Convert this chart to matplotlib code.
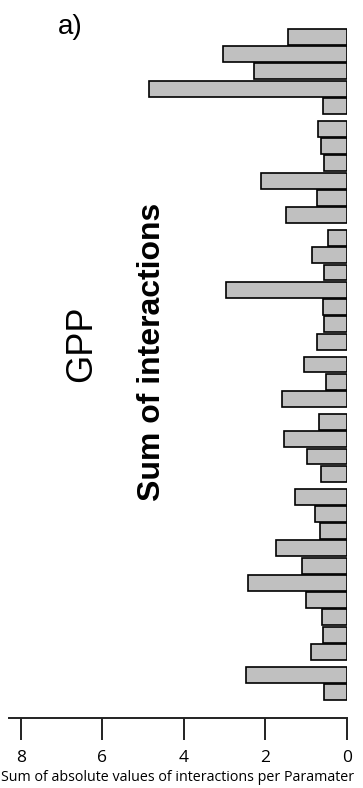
import numpy as np
import matplotlib
matplotlib.use("Agg")
import matplotlib.pyplot as plt

# bar values, top to bottom, split into the visual groups
group_sizes = [5, 6, 7, 3, 4, 10, 2]
values = [
    1.45, 3.05, 2.27, 4.87, 0.60,
    0.71, 0.63, 0.56, 2.10, 0.73, 1.49,
    0.47, 0.85, 0.56, 2.98, 0.59, 0.56, 0.73,
    1.05, 0.51, 1.59,
    0.68, 1.54, 0.98, 0.63,
    1.27, 0.78, 0.66, 1.74, 1.10, 2.44, 1.00, 0.61, 0.60, 0.88,
    2.49, 0.56,
]
xticks = [8, 6, 4, 2, 0]
xlabel = "Sum of absolute values of interactions per Paramater"

gap = 0.33
pos = []
i = 0
for g, n in enumerate(group_sizes):
    for k in range(n):
        pos.append(i + g * gap)
        i += 1
pos = np.array(pos)

fig = plt.figure(figsize=(3.63, 7.88), dpi=100)
ax = fig.add_axes([8.7 / 363, 1 - 718 / 788, (347 - 8.7) / 363, (718 - 20) / 788])

ax.barh(pos, values, height=0.92, color="#c0c0c0", edgecolor="black", linewidth=1.2)

ax.set_xlim(8.3, 0)
ax.set_ylim(pos[-1] + 0.46 + 1.04, -0.98)

for s in ["top", "left", "right"]:
    ax.spines[s].set_visible(False)
ax.spines["bottom"].set_linewidth(1.4)
ax.spines["bottom"].set_color("#222222")
ax.set_yticks([])
ax.set_xticks(xticks)
ax.set_xticklabels([str(t) for t in xticks], family="Open Sans", fontsize=12.5)
ax.tick_params(axis="x", direction="out", length=16, width=1.4, color="#222222", pad=7)
ax.set_xlabel(xlabel, family="Open Sans", fontsize=10.3, labelpad=3)

fig.text(70 / 363, 1 - 27 / 788, "a)", family="Liberation Sans", fontsize=20,
         ha="center", va="center")
fig.text(82 / 363, 1 - 344 / 788, "GPP", family="Liberation Sans", fontsize=26,
         rotation=90, ha="center", va="center")
fig.text(152 / 363, 1 - 352 / 788, "Sum of interactions", family="Liberation Sans",
         fontsize=23, fontweight="bold", rotation=90, ha="center", va="center")

fig.savefig("out.png", dpi=100)
